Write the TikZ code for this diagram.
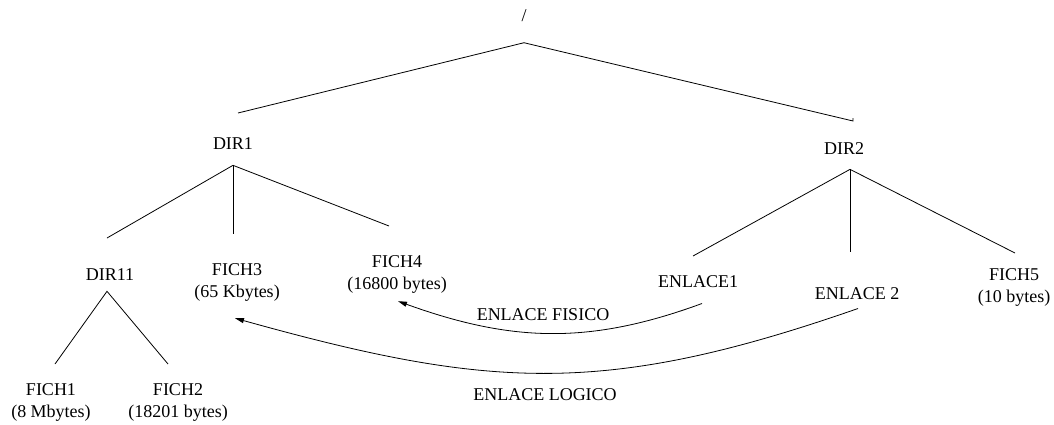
\documentclass[tikz,border=0pt]{standalone}
\usepackage{fontspec}
\setmainfont{Liberation Serif}
\usetikzlibrary{arrows.meta}

\begin{document}
\begin{tikzpicture}[
  x=1pt,y=-1pt,
  font=\fontsize{18}{22}\selectfont,
  lbl/.style={inner sep=0pt,anchor=north,align=center},
  edge/.style={line width=0.8pt},
  link/.style={line width=0.8pt,-{Triangle[length=9pt,width=5pt]}}
]
\useasboundingbox (0,0) rectangle (1054,424);
% --- root ---
\node[inner sep=0pt](root) at (524,15.5){/};
% --- level 1: directories ---
\node[lbl](dir1) at (233,137){DIR1};
\node[lbl](dir2) at (844,142){DIR2};
% --- level 2 ---
\node[lbl](dir11) at (110,268){DIR11};
\node[lbl](fich3) at (237,263){FICH3\\(65 Kbytes)};
\node[lbl](fich4) at (397,255){FICH4\\(16800 bytes)};
\node[lbl](enl1)  at (698,275){ENLACE1};
\node[lbl](enl2)  at (857,287){ENLACE 2};
\node[lbl](fich5) at (1014,268){FICH5\\(10 bytes)};
% --- level 3 ---
\node[lbl](fich1) at (51,383){FICH1\\(8 Mbytes)};
\node[lbl](fich2) at (178,383){FICH2\\(18201 bytes)};
% tree edges
\draw[edge] ([xshift=5pt,yshift=24pt]dir1.north) -- ([yshift=-21pt]root.south)
  -- ([xshift=9pt,yshift=21pt]dir2.north) -- ++(0,-3);
\draw[edge] ([xshift=-3pt,yshift=30pt]dir11.north) -- ([yshift=-16pt]dir1.south)
  -- ([xshift=-8pt,yshift=29pt]fich4.north);
\draw[edge] ([yshift=-16pt]dir1.south) -- ([xshift=-4pt,yshift=29pt]fich3.north);
\draw[edge] ([xshift=4pt,yshift=19pt]fich1.north) -- ([xshift=-3pt,yshift=-11pt]dir11.south)
  -- ([xshift=-10pt,yshift=19pt]fich2.north);
\draw[edge] ([xshift=-5pt,yshift=19pt]enl1.north) -- ([xshift=6pt,yshift=-15pt]dir2.south)
  -- ([xshift=1pt,yshift=15pt]fich5.north);
\draw[edge] ([xshift=6pt,yshift=-15pt]dir2.south) -- ([xshift=-7pt,yshift=35pt]enl2.north);
% --- links ---
\draw[link] ([xshift=4pt,yshift=-16pt]enl1.south) .. controls (589,345) and (511,342)
  .. ([xshift=1pt,yshift=-8pt]fich4.south);
\draw[link] ([xshift=1pt,yshift=-9pt]enl2.south) .. controls (604,397) and (489,389)
  .. ([xshift=-2pt,yshift=-17pt]fich3.south);
\node[inner sep=0pt](fisico) at (543,315){ENLACE FISICO};
\node[inner sep=0pt](logico) at (545,395){ENLACE LOGICO};
\end{tikzpicture}
\end{document}
